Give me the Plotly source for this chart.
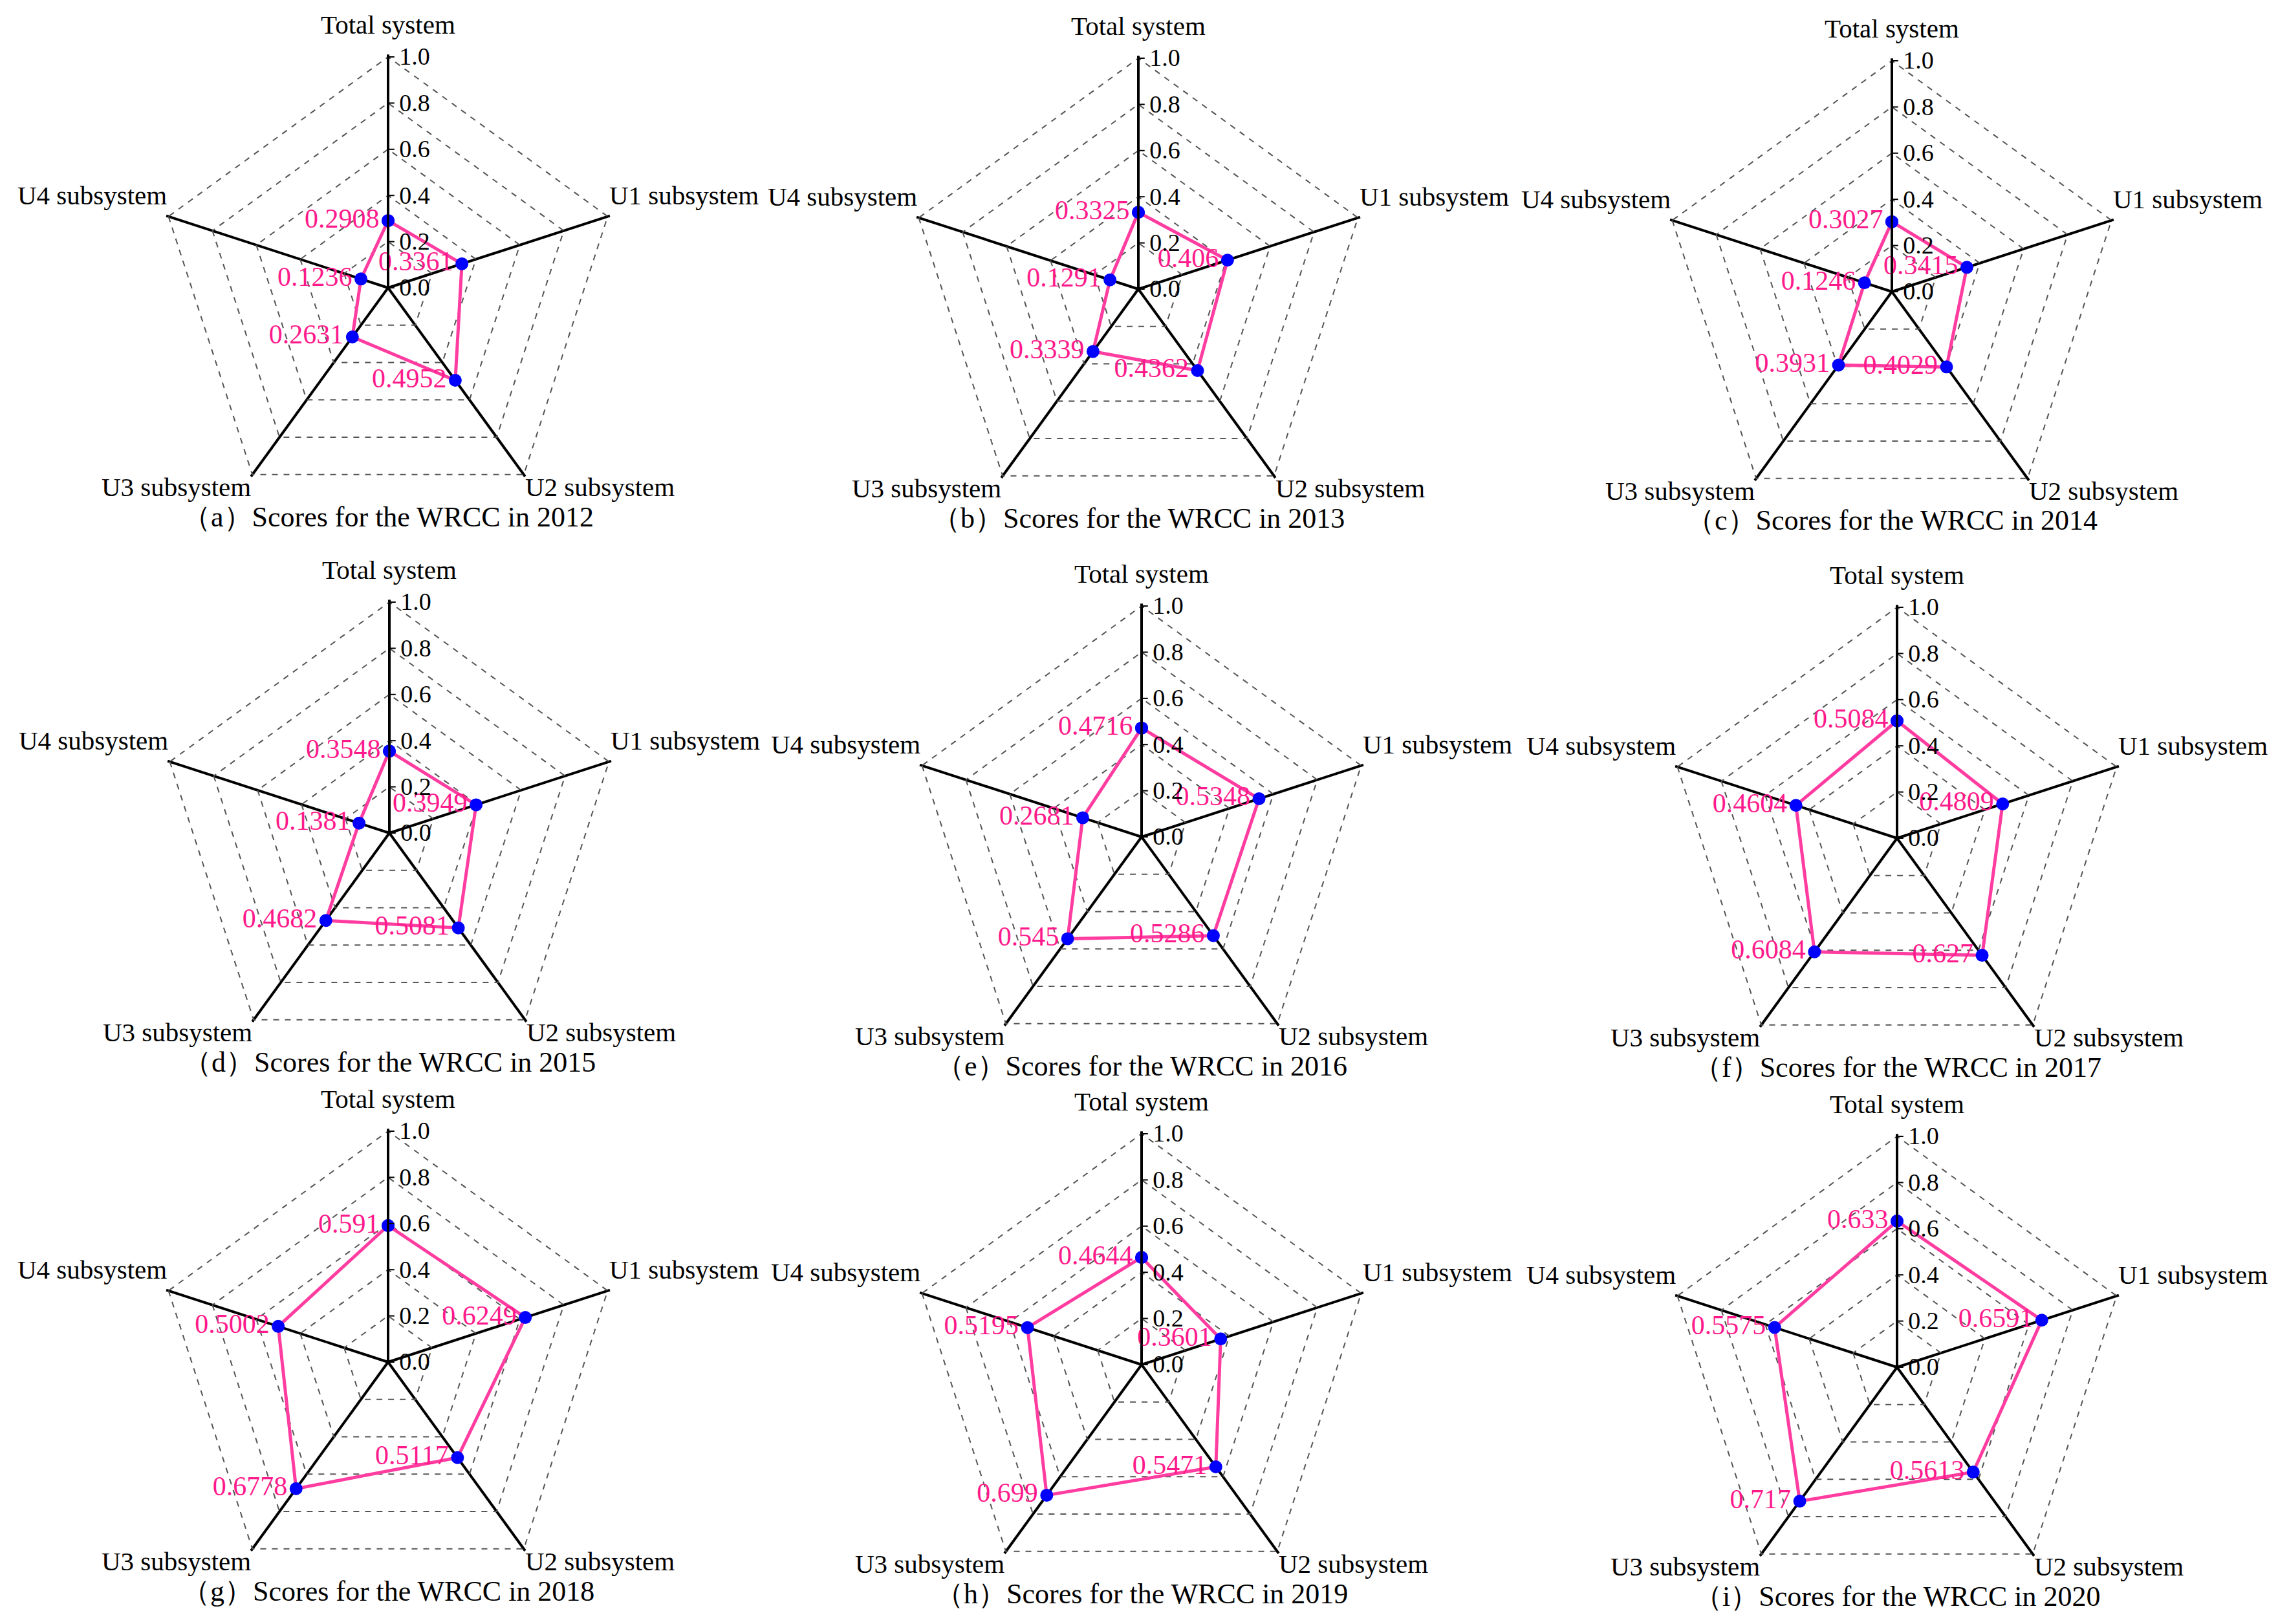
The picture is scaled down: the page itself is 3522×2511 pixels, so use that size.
import math
import plotly.graph_objects as go

# ---------------- data ----------------
categories = ["Total system", "U1 subsystem", "U2 subsystem", "U3 subsystem", "U4 subsystem"]
years = [2012, 2013, 2014, 2015, 2016, 2017, 2018, 2019, 2020]
letters = ["a", "b", "c", "d", "e", "f", "g", "h", "i"]

scores_2012 = [0.2908, 0.3361, 0.4952, 0.2631, 0.1236]
scores_2013 = [0.3325, 0.406, 0.4362, 0.3339, 0.1291]
scores_2014 = [0.3027, 0.3415, 0.4029, 0.3931, 0.1246]
scores_2015 = [0.3548, 0.3949, 0.5081, 0.4682, 0.1381]
scores_2016 = [0.4716, 0.5348, 0.5286, 0.545, 0.2681]
scores_2017 = [0.5084, 0.4809, 0.627, 0.6084, 0.4604]
scores_2018 = [0.591, 0.6249, 0.5117, 0.6778, 0.5002]
scores_2019 = [0.4644, 0.3601, 0.5471, 0.699, 0.5195]
scores_2020 = [0.633, 0.6591, 0.5613, 0.717, 0.5575]

all_scores = [scores_2012, scores_2013, scores_2014, scores_2015, scores_2016,
              scores_2017, scores_2018, scores_2019, scores_2020]

radial_ticks = [0.0, 0.2, 0.4, 0.6, 0.8, 1.0]
radial_ticktext = ["0.0", "0.2", "0.4", "0.6", "0.8", "1.0"]

# ---------------- layout constants ----------------
W, H = 3522, 2511
R_PX = 357            # pixel radius of the 1.0 ring
R_MAX = 1.01          # radial range end (keeps the 1.0 ring drawn)
DOM = R_PX * R_MAX    # half size of each polar domain in px
# centre of each panel (px from top-left of the page)
panel_centers = [(592, 437), (1752, 439), (2917, 443),
                 (594, 1280), (1757, 1286), (2925, 1288),
                 (592, 2098), (1757, 2102), (2925, 2106)]
caption_offset = 354

FONT = "Liberation Serif"
PINK_TEXT = "#FF1A8C"
PINK_LINE = "#FF3CA0"
BLUE = "#0000FF"

fig = go.Figure()
annotations = []
layout_polars = {}

for i, (yr, let, sc) in enumerate(zip(years, letters, all_scores)):
    cx, cy = panel_centers[i]
    pname = "polar" if i == 0 else f"polar{i+1}"

    r_closed = sc + [sc[0]]
    th_closed = categories + [categories[0]]
    txt = [str(v) for v in sc] + [""]

    fig.add_trace(go.Scatterpolar(
        r=r_closed, theta=th_closed, subplot=pname,
        mode="lines+markers+text",
        text=txt, textposition="middle left",
        textfont=dict(family=FONT, size=42, color=PINK_TEXT),
        line=dict(color=PINK_LINE, width=5),
        marker=dict(color=BLUE, size=20),
        showlegend=False, cliponaxis=False,
    ))

    layout_polars[pname] = dict(
        domain=dict(x=[(cx - DOM) / W, (cx + DOM) / W],
                    y=[1 - (cy + DOM) / H, 1 - (cy - DOM) / H]),
        gridshape="linear",
        bgcolor="white",
        angularaxis=dict(
            type="category", categoryorder="array", categoryarray=categories,
            direction="clockwise", rotation=90,
            showline=False, showgrid=True, gridcolor="black", gridwidth=3.5,
            ticks="", showticklabels=False,
        ),
        radialaxis=dict(
            range=[0, R_MAX], tickvals=radial_ticks, ticktext=radial_ticktext,
            angle=90, tickangle=90, side="clockwise",
            showline=True, linecolor="black", linewidth=3.5,
            ticks="outside", ticklen=8, tickwidth=2, tickcolor="black",
            showgrid=True, gridcolor="#555555", gridwidth=2, griddash="dash",
            tickfont=dict(family=FONT, size=38, color="black"),
        ),
    )

    # category labels placed just outside each vertex of the pentagon
    for k, cat in enumerate(categories):
        a = math.radians(90 - 72 * k)
        vx = cx + R_PX * math.cos(a)
        vy = cy - R_PX * math.sin(a)
        c, s = math.cos(a), math.sin(a)
        xanchor = "left" if c > 0.1 else ("right" if c < -0.1 else "center")
        dy = -50 if s > 0.9 else (-33 if s > 0 else 19)
        annotations.append(dict(
            x=vx / W, y=1 - (vy + dy) / H, xref="paper", yref="paper",
            text=cat, showarrow=False, xanchor=xanchor, yanchor="middle",
            font=dict(family=FONT, size=41, color="black"),
        ))

    annotations.append(dict(
        x=cx / W, y=1 - (cy + caption_offset) / H, xref="paper", yref="paper",
        text=f"（{let}）Scores for the WRCC in {yr}", showarrow=False,
        xanchor="center", yanchor="middle",
        font=dict(family=FONT, size=44, color="black"),
    ))

fig.update_layout(
    width=W, height=H,
    margin=dict(l=0, r=0, t=0, b=0),
    paper_bgcolor="white", plot_bgcolor="white",
    annotations=annotations,
    **layout_polars,
)

fig.write_html("out.html", config={"displayModeBar": False})
